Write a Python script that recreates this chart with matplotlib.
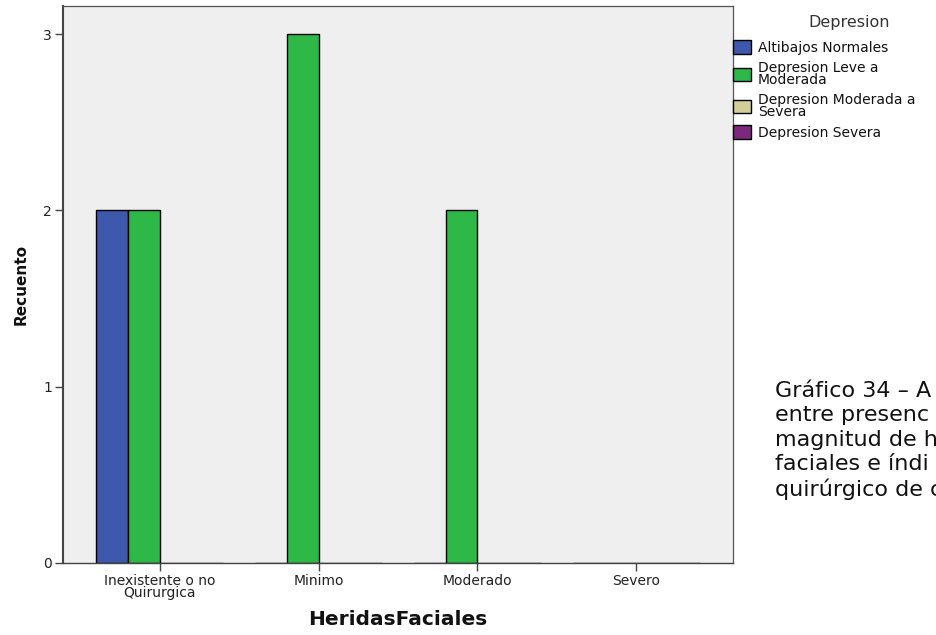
import matplotlib
matplotlib.use('Agg')
import matplotlib.pyplot as plt
import numpy as np

plt.rcParams['font.family'] = ['DejaVu Sans']

# data
categories = ['Inexistente o no\nQuirurgica', 'Minimo', 'Moderado', 'Severo']
series_names = ['Altibajos Normales', 'Depresion Leve a\nModerada',
                'Depresion Moderada a\nSevera', 'Depresion Severa']
altibajos = [2, 0, 0, 0]
leve_moderada = [2, 3, 2, 0]
moderada_severa = [0, 0, 0, 0]
severa = [0, 0, 0, 0]
colors = ['#3E58AC', '#2EB848', '#D3CE97', '#7C287D']

fig = plt.figure(figsize=(9.36, 6.35), dpi=100, facecolor='white')
ax = fig.add_axes([63 / 936, 72 / 635, 670 / 936, 557 / 635])
ax.set_facecolor('#EFEFEF')

x = np.arange(len(categories))
w = 0.2
handles = []
for i, (vals, c) in enumerate(zip([altibajos, leve_moderada, moderada_severa, severa], colors)):
    b = ax.bar(x + (i - 1.5) * w, vals, w, color=c, edgecolor='black', linewidth=1.0)
    handles.append(b)

ax.set_xlim(-0.61, 3.61)
ax.set_ylim(0, 3.16)
ax.set_xticks(x)
ax.set_xticklabels(categories, fontsize=10, linespacing=0.85, color='#222222')
ax.set_yticks([0, 1, 2, 3])
ax.tick_params(axis='both', length=6, width=1, color='#444444', labelsize=10,
               labelcolor='#222222', pad=2)

for s in ['top', 'right']:
    ax.spines[s].set_color('#555555')
    ax.spines[s].set_linewidth(0.9)
ax.spines['left'].set_color('#444444')
ax.spines['left'].set_linewidth(1.5)
ax.spines['bottom'].set_color('#444444')
ax.spines['bottom'].set_linewidth(1.0)

ax.set_xlabel('HeridasFaciales', fontsize=14.5, fontweight='bold', labelpad=7, color='#111111')
ax.set_ylabel('Recuento', fontsize=11, fontweight='bold', labelpad=10, color='#111111')

leg = fig.legend(handles, series_names, loc='upper left', bbox_to_anchor=(733 / 936, 1 - 40 / 635),
                 frameon=False, fontsize=10,
                 handlelength=1.3, handleheight=1.15, labelspacing=0.45, handletextpad=0.5,
                 borderpad=0, borderaxespad=0)
for t in leg.get_texts():
    t.set_linespacing(0.8)
    t.set_color('#111111')
fig.text(849 / 936, 1 - 23 / 635, 'Depresion', fontsize=11.5, ha='center', va='center',
         color='#333333')

# caption beside the chart, cut off by the right edge as in the source
caption = ['Gráfico 34 – A', 'entre presenc', 'magnitud de h', 'faciales e índi', 'quirúrgico de c']
fig.text(775 / 936, 1 - 381 / 635, '\n'.join(caption), fontsize=16, va='top', ha='left',
         linespacing=1.27, color='#111111')

plt.savefig('out.png', dpi=100)
plt.close()
